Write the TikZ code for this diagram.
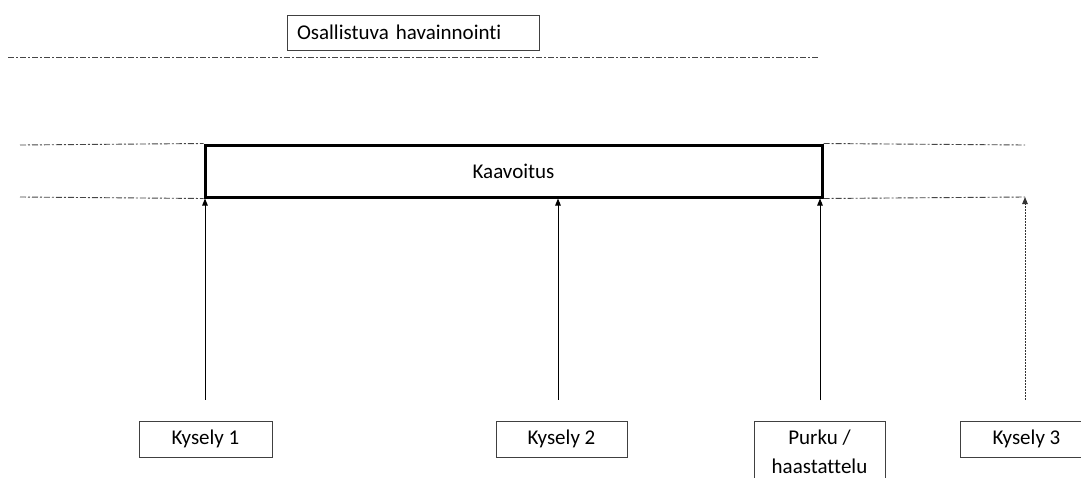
\documentclass[tikz,border=0pt]{standalone}
\usepackage{fontspec}
\setmainfont{Carlito}[Ligatures={NoCommon,NoRequired,NoContextual}]
\usetikzlibrary{arrows.meta}
\definecolor{boxline}{RGB}{64,64,64}
\definecolor{guide}{RGB}{70,70,70}
\tikzset{
  smallbox/.style={draw=boxline, line width=1pt, minimum height=36pt, inner sep=0pt, align=center, font=\fontsize{21}{29}\selectfont},
  mainbox/.style={draw=black, line width=3pt, minimum width=617pt, minimum height=52pt, inner sep=0pt, font=\fontsize{21}{25}\selectfont},
  guideline/.style={draw=guide, line width=0.9pt, dash pattern=on 6pt off 2pt on 2pt off 2pt},
  arr/.style={draw=black, line width=1pt, -{Triangle[length=7pt,width=5.5pt]}, shorten <=21pt},
  dotarr/.style={draw=black!80, line width=1pt, dash pattern=on 1.5pt off 1.5pt, -{Triangle[length=7pt,width=5.5pt]}, shorten <=21pt}
}
\begin{document}
\begin{tikzpicture}[x=1pt,y=-1pt]
\clip (0,0) rectangle (1081,477);
\fill[white] (0,0) rectangle (1081,477);

% top box and line
\node[draw=boxline, line width=1pt, text width=232pt, inner xsep=10pt, inner ysep=0pt, minimum height=35pt, align=left, font=\fontsize{21}{25}\selectfont] (oh) at (413,32.5) {Osallistuva havainnointi};
\coordinate (tl) at (8,57);
\coordinate (tr) at (818,57);
\draw[guideline] (tl) -- (tr);

% main box
\node[mainbox] (kaav) at (513.5,171) {Kaavoitus};
\coordinate (gl1) at (20,145);
\coordinate (gl2) at (20,197);
\coordinate (gr1) at (1025,145);
\coordinate (gr2) at (1025,197);
\draw[guideline] (gl1) -- (kaav.north west);
\draw[guideline] (gl2) -- (kaav.south west);
\draw[guideline] (kaav.north east) -- (gr1);
\draw[guideline] (kaav.south east) -- (gr2);

% bottom boxes
\node[smallbox, minimum width=133pt] (k1) at (205.5,439) {Kysely 1};
\node[smallbox, minimum width=131pt] (k2) at (561.5,439) {Kysely 2};
\node[smallbox, minimum width=131pt, minimum height=60pt, anchor=north] (pk) at (819.5,421) {Purku /\\haastattelu};
\node[smallbox, minimum width=133pt] (k3) at (1026.5,439) {Kysely 3};

% arrows
\draw[arr] ([xshift=-0.5pt]k1.north) -- ([xshift=-0.5pt]k1.north |- kaav.south);
\draw[arr] ([xshift=-3.5pt]k2.north) -- ([xshift=-3.5pt]k2.north |- kaav.south);
\draw[arr] ([xshift=0.5pt]pk.north) -- ([xshift=0.5pt]pk.north |- kaav.south);
\draw[dotarr] ([xshift=-1.5pt]k3.north) -- (gr2);
\end{tikzpicture}
\end{document}
